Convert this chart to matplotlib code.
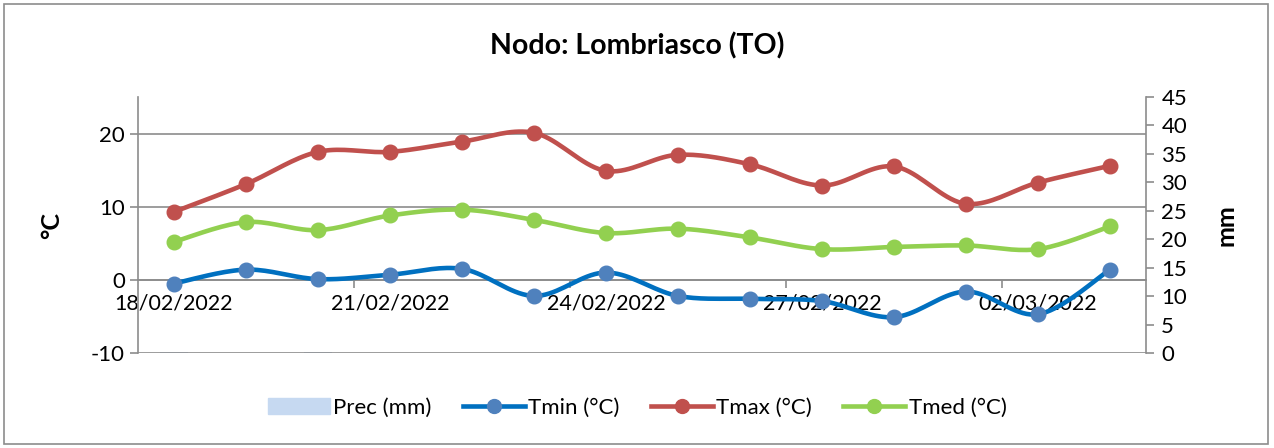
import matplotlib
matplotlib.use("Agg")
import matplotlib.pyplot as plt
from matplotlib.lines import Line2D
from matplotlib.patches import Patch, Rectangle
import numpy as np

plt.rcParams['font.family'] = ['Lato', 'DejaVu Sans']
plt.rcParams['axes.unicode_minus'] = False

# data
dates = ["18/02/2022", "19/02/2022", "20/02/2022", "21/02/2022", "22/02/2022",
         "23/02/2022", "24/02/2022", "25/02/2022", "26/02/2022", "27/02/2022",
         "28/02/2022", "01/03/2022", "02/03/2022", "03/03/2022"]
prec = [0.2, 0, 0.2, 0, 0, 0, 0, 0, 0, 0, 0, 0, 0, 0]
tmin = [-0.5, 1.4, 0.1, 0.7, 1.5, -2.2, 1.0, -2.2, -2.6, -2.9, -5.1, -1.6, -4.7, 1.4]
tmax = [9.3, 13.1, 17.5, 17.5, 18.9, 20.1, 14.9, 17.1, 15.8, 12.9, 15.5, 10.4, 13.3, 15.6]
tmed = [5.2, 7.9, 6.8, 8.8, 9.6, 8.2, 6.4, 7.0, 5.8, 4.2, 4.5, 4.7, 4.2, 7.3]

c_min, m_min = '#0070c0', '#4f81bd'
c_max = '#c0504d'
c_med = '#92d050'
c_prec = '#c6d9f1'


def smooth(x, y, n=20):
	# catmull-rom, like excel "smoothed line"
	x = np.asarray(x, float)
	y = np.asarray(y, float)
	px = np.concatenate([[x[0]], x, [x[-1]]])
	py = np.concatenate([[y[0]], y, [y[-1]]])
	xs, ys = [], []
	t = np.linspace(0, 1, n)
	for i in range(1, len(px) - 2):
		for p, out in ((px, xs), (py, ys)):
			p0, p1, p2, p3 = p[i - 1], p[i], p[i + 1], p[i + 2]
			m1 = (p2 - p0) / 2
			m2 = (p3 - p1) / 2
			h00 = 2 * t**3 - 3 * t**2 + 1
			h10 = t**3 - 2 * t**2 + t
			h01 = -2 * t**3 + 3 * t**2
			h11 = t**3 - t**2
			out.extend(h00 * p1 + h10 * m1 + h01 * p2 + h11 * m2)
	return np.array(xs), np.array(ys)


fig = plt.figure(figsize=(12.74, 4.48), dpi=100)
ax = fig.add_axes([138 / 1274, 95 / 448, 1008 / 1274, 256 / 448])
ax2 = ax.twinx()
ax.set_zorder(ax2.get_zorder() + 1)
ax.patch.set_visible(False)

x = np.arange(len(dates))
ax2.bar(x, prec, width=0.4, color=c_prec, zorder=1)
ax2.set_ylim(0, 45)
ax2.set_yticks(np.arange(0, 46, 5))
ax2.set_ylabel("mm", fontsize=18, fontweight='bold', labelpad=20)

for vals, lc, mc in ((tmin, c_min, m_min), (tmax, c_max, c_max), (tmed, c_med, c_med)):
	sx, sy = smooth(x, vals)
	ax.plot(sx, sy, color=lc, lw=3.3, solid_capstyle='round', zorder=3)
	ax.plot(x, vals, 'o', color=mc, ms=10.5, zorder=4)

ax.set_xlim(-0.5, len(dates) - 0.5)
ax.set_ylim(-10, 25)
ax.set_yticks([-10, 0, 10, 20])
ax.yaxis.grid(True, color='#8c8c8c', lw=1.2)
ax.set_axisbelow(True)
ax.set_ylabel("°C", fontsize=18, fontweight='bold', labelpad=20)

ax.set_xticks(x[::3])
ax.set_xticklabels(dates[::3])
ax.set_xticks([2.5, 5.5, 8.5, 11.5], minor=True)
ax.spines['bottom'].set_position(('data', 0))
ax.tick_params(axis='x', which='major', length=0, pad=10, labelsize=15.5)
ax.tick_params(axis='x', which='minor', length=6, color='#8c8c8c', width=1.2)
ax.tick_params(axis='y', length=6, color='#8c8c8c', width=1.2, labelsize=16)
ax2.tick_params(axis='y', length=6, color='#8c8c8c', width=1.2, labelsize=16, pad=5)

for a in (ax, ax2):
	for s in a.spines.values():
		s.set_color('#8c8c8c')
		s.set_linewidth(1.2)
	a.spines['top'].set_visible(False)
ax2.spines['bottom'].set_visible(False)
ax2.spines['left'].set_visible(False)
ax.spines['right'].set_visible(False)

fig.text(0.5, 1 - 46 / 448, "Nodo: Lombriasco (TO)", ha='center', va='center',
	fontsize=20.5, fontweight='bold')

handles = [
	Patch(color=c_prec),
	Line2D([], [], color=c_min, lw=3.3, marker='o', ms=10, mfc=m_min, mec=m_min),
	Line2D([], [], color=c_max, lw=3.3, marker='o', ms=10),
	Line2D([], [], color=c_med, lw=3.3, marker='o', ms=10),
]
labels = ["Prec (mm)", "Tmin (°C)", "Tmax (°C)", "Tmed (°C)"]
fig.legend(handles, labels, loc='center', bbox_to_anchor=(0.5, 1 - 408 / 448), ncol=4,
	frameon=False, fontsize=16, handlelength=2.8, columnspacing=1.4, handletextpad=0.15)

fig.patches.append(Rectangle((4 / 1274, 4 / 448), 1264 / 1274, 440 / 448, transform=fig.transFigure,
	fill=False, edgecolor='#8c8c8c', lw=1.2))

fig.savefig("out.png", dpi=100)
